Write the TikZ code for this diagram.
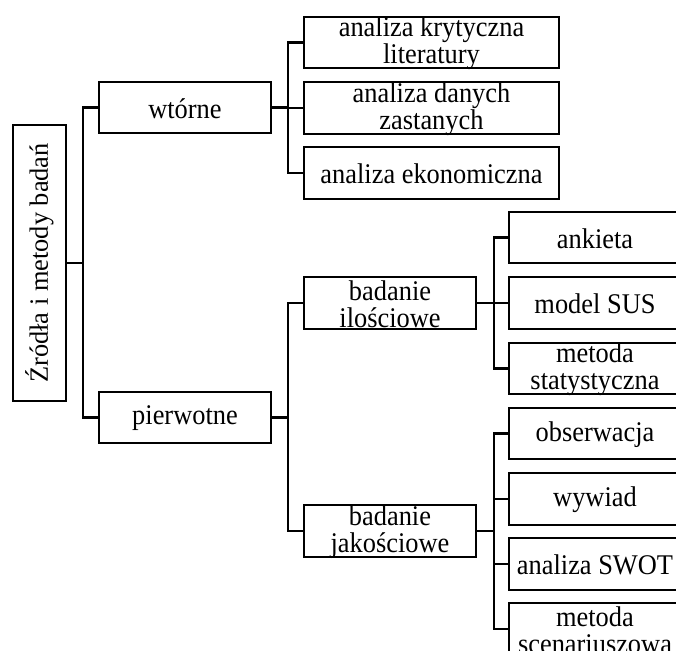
\documentclass[tikz,border=0pt]{standalone}
\usepackage{fontspec}
\setmainfont{Liberation Serif}
\begin{document}
\begin{tikzpicture}[x=0.5pt,y=-0.5pt,
  txt/.style={font=\fontsize{13.2pt}{12.6pt}\selectfont, align=center, inner sep=0pt,
    yshift=-0.5pt, yscale=1.08, transform shape},
  roottxt/.style={font=\fontsize{13.2pt}{12.6pt}\selectfont, inner sep=0pt, rotate=90},
  box/.style={draw, line width=1.2pt, inner sep=0pt, minimum width=86pt, minimum height=25.75pt},
  widebox/.style={box, minimum width=127.5pt},
  rootbox/.style={draw, line width=1.2pt, inner sep=0pt, minimum width=26.5pt, minimum height=138pt},
  link/.style={line width=1.2pt}]
\useasboundingbox (0,0) rectangle (676,650);
\clip (0,0) rectangle (676,650);

% root
\node[rootbox, label={[roottxt]center:Źródła i metody badań}] (root) at (39.5,263) {};

% first level
\node[box, label={[txt]center:wtórne}] (wt) at (185,107.5) {};
\node[box, label={[txt]center:pierwotne}] (pi) at (185,417.5) {};

% secondary sources
\node[widebox, label={[txt]center:{analiza krytyczna\\literatury}}] (k1) at (431.5,42.5) {};
\node[widebox, label={[txt]center:{analiza danych\\zastanych}}] (k2) at (431.5,108) {};
\node[widebox, label={[txt]center:analiza ekonomiczna}] (k3) at (431.5,173) {};

% primary research
\node[box, label={[txt]center:{badanie\\ilościowe}}] (il) at (390,303) {};
\node[box, label={[txt]center:{badanie\\jakościowe}}] (ja) at (390,531) {};

% quantitative methods
\node[box, label={[txt]center:ankieta}] (an) at (595,237.5) {};
\node[box, label={[txt]center:model SUS}] (sus) at (595,303) {};
\node[box, label={[txt]center:{metoda\\statystyczna}}] (st) at (595,368.5) {};

% qualitative methods
\node[box, label={[txt]center:obserwacja}] (ob) at (595,433.5) {};
\node[box, label={[txt]center:wywiad}] (wy) at (595,499) {};
\node[box, label={[txt]center:analiza SWOT}] (sw) at (595,564) {};
\node[box, label={[txt]center:{metoda\\scenariuszowa}}] (sc) at (595,629) {};

% connectors
\foreach \t in {wt,pi} \draw[link] (root.east) -- ++(16,0) |- (\t.west);
\foreach \t in {k1,k2,k3} \draw[link] (wt.east) -- ++(16,0) |- (\t.west);
\foreach \t in {il,ja} \draw[link] (pi.east) -- ++(16,0) |- (\t.west);
\foreach \t in {an,sus,st} \draw[link] (il.east) -- ++(17,0) |- (\t.west);
\foreach \t in {ob,wy,sw,sc} \draw[link] (ja.east) -- ++(17,0) |- (\t.west);
\end{tikzpicture}
\end{document}
